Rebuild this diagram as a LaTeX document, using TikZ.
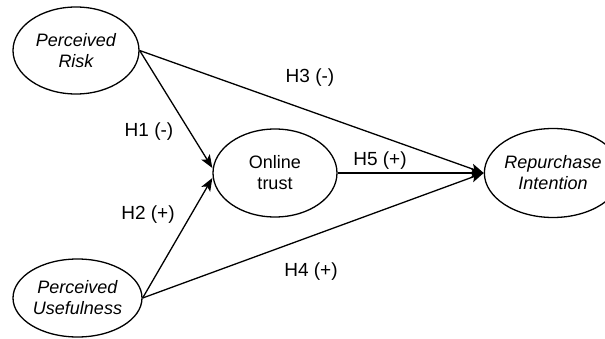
\documentclass[tikz,border=0pt]{standalone}
\usepackage{fontspec}
\setmainfont{Liberation Sans}
\usetikzlibrary{shapes.geometric,arrows.meta}
\begin{document}
\begin{tikzpicture}[x=1pt,y=1pt,
  construct/.style={draw, ellipse, line width=1.3pt, inner sep=0pt, align=center,
    font=\fontsize{18}{21}\selectfont},
  hyp/.style={font=\fontsize{19}{22}\selectfont, inner sep=0pt},
  link/.style={line width=1.3pt, -{Stealth[length=13pt,width=10pt,inset=3pt]}},
]
\useasboundingbox (0,0) rectangle (605,338);
\node[construct, minimum width=126pt, minimum height=87pt] (risk) at (76,287.5) {\itshape Perceived\\\itshape Risk};
\node[construct, minimum width=124pt, minimum height=88pt] (trust) at (275,165) {Online\\trust};
\node[construct, minimum width=120pt, minimum height=89pt] (rep) at (553,165) {\itshape Repurchase\\\itshape Intention};
\node[construct, minimum width=129pt, minimum height=78pt] (use) at (77.5,40) {\itshape Perceived\\\itshape Usefulness};

\draw[link] (risk.east) -- ([yshift=5pt]trust.west);
\draw[link] (use.east) -- ([yshift=-5pt]trust.west);
\draw[link] (risk.east) -- (rep.west);
\draw[link] (use.east) -- (rep.west);
\draw[link, line width=2pt] (trust.east) -- (rep.west);

\node[hyp] (h1) at (149,206) {H1 (-)};
\node[hyp] (h2) at (148,123) {H2 (+)};
\node[hyp] (h3) at (310,260) {H3 (-)};
\node[hyp] (h4) at (311,66) {H4 (+)};
\node[hyp] (h5) at (380,177) {H5 (+)};
\end{tikzpicture}
\end{document}
